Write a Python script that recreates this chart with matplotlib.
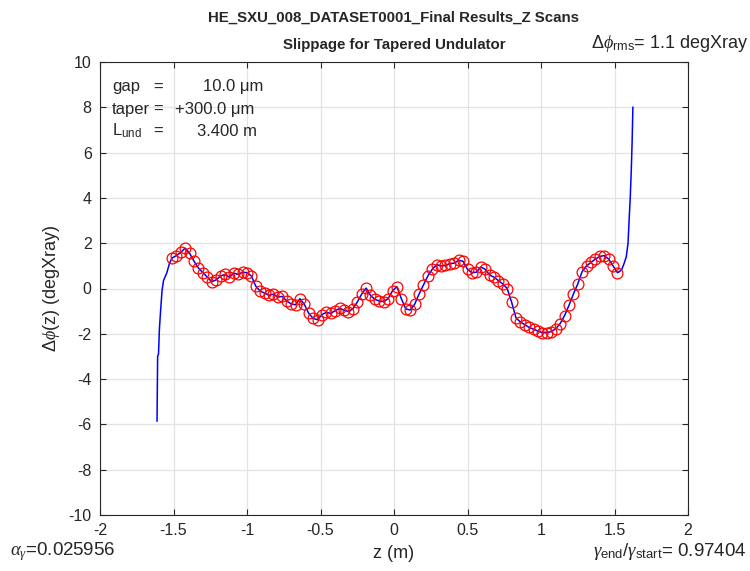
import numpy as np
import matplotlib
matplotlib.use("Agg")
import matplotlib.pyplot as plt

plt.rcParams["font.family"] = ["Liberation Sans", "DejaVu Sans"]
plt.rcParams["mathtext.fontset"] = "custom"
plt.rcParams["mathtext.rm"] = "Liberation Sans"
plt.rcParams["mathtext.it"] = "Liberation Serif:italic"
plt.rcParams["axes.unicode_minus"] = False

# rising edge before the first pole
z_head = [-1.612, -1.608, -1.602, -1.596, -1.588, -1.578, -1.568, -1.558, -1.545, -1.528]
phi_head = [-5.85, -3.0, -2.9, -1.8, -1.0, -0.1, 0.35, 0.5, 0.7, 1.1]

# slippage at each sampled pole
z_start, z_end = -1.51, 1.52
phi_per = [
    1.35, 1.45, 1.60, 1.78, 1.55, 1.20, 0.90, 0.70, 0.50, 0.30,
    0.38, 0.55, 0.62, 0.50, 0.68, 0.62, 0.72, 0.70, 0.55, 0.10,
    -0.12, -0.20, -0.30, -0.25, -0.38, -0.35, -0.55, -0.68, -0.72, -0.45,
    -0.70, -1.10, -1.32, -1.38, -1.15, -1.05, -1.10, -0.98, -0.88, -0.95,
    -1.02, -0.90, -0.60, -0.25, 0.02, -0.30, -0.48, -0.55, -0.58, -0.45,
    -0.10, 0.08, -0.45, -0.90, -0.95, -0.70, -0.25, 0.15, 0.55, 0.85,
    1.05, 1.00, 1.02, 1.10, 1.12, 1.25, 1.20, 0.85, 0.70, 0.72,
    0.95, 0.85, 0.60, 0.50, 0.35, 0.20, 0.00, -0.60, -1.30, -1.48,
    -1.60, -1.72, -1.80, -1.88, -1.95, -1.95, -1.90, -1.78, -1.55, -1.20,
    -0.75, -0.25, 0.20, 0.75, 1.00, 1.15, 1.30, 1.42, 1.45, 1.30,
    1.00, 0.70,
]
z_per = np.linspace(z_start, z_end, len(phi_per))

# steep exit after the last pole
z_tail = [1.535, 1.55, 1.565, 1.58, 1.592, 1.600, 1.607, 1.614, 1.620, 1.625]
phi_tail = [0.75, 0.85, 1.1, 1.4, 2.0, 3.1, 4.0, 5.2, 6.5, 8.0]

gap_um = 10.0
taper_um = 300.0
l_und = 3.400
phi_rms = 1.1
alpha_gamma = 0.025956
gamma_ratio = 0.97404

W, H = 750, 571
fig = plt.figure(figsize=(W / 100, H / 100), dpi=100)
ax = fig.add_axes([100 / W, 1 - 515 / H, 588 / W, 453 / H])

z_all = np.concatenate([z_head, z_per, z_tail])
phi_all = np.concatenate([phi_head, phi_per, phi_tail])
ax.plot(z_all, phi_all, color="#0000ff", lw=1.1, zorder=3)
ax.plot(z_per, phi_per, "o", mfc="none", mec="#ff0000", ms=7.8, mew=0.9, zorder=4)

ax.set_xlim(-2, 2)
ax.set_ylim(-10, 10)
ax.set_xticks(np.arange(-2, 2.01, 0.5))
ax.set_xticklabels(["-2", "-1.5", "-1", "-0.5", "0", "0.5", "1", "1.5", "2"])
ax.set_yticks(np.arange(-10, 11, 2))
ax.grid(True, color="#e3e3e3", lw=0.9)
ax.set_axisbelow(True)
ax.tick_params(direction="in", length=4, width=0.8, colors="#262626",
               labelsize=11.5, top=True, right=True, pad=6)
for s in ax.spines.values():
    s.set_color("#262626")
    s.set_linewidth(0.8)

ax.set_xlabel("z (m)", fontsize=13, color="#262626", labelpad=5)
ax.set_ylabel(r"$\Delta\phi$(z) (degXray)", fontsize=13, color="#262626", labelpad=5)

def ftext(x, y, s, **kw):
    fig.text(x / W, 1 - y / H, s, color="#262626", **kw)

ftext(394, 18, "HE_SXU_008_DATASET0001_Final Results_Z Scans",
      fontsize=10.8, fontweight="bold", ha="center", va="center")
ftext(394, 45, "Slippage for Tapered Undulator",
      fontsize=10.8, fontweight="bold", ha="center", va="center")
ftext(748, 44, r"$\Delta\phi_{\rm rms}$= " + f"{phi_rms:.1f} degXray",
      fontsize=13, ha="right", va="center")
ftext(10, 552, r"$\alpha_{\gamma}$=" + f"{alpha_gamma:.6f}",
      fontsize=13.5, ha="left", va="center")
ftext(747, 552, r"$\gamma_{\rm end}/\gamma_{\rm start}$= " + f"{gamma_ratio:.5f}",
      fontsize=13.5, ha="right", va="center")

# parameter block in the upper left corner
rows = [
    ("gap", f"{gap_um:.1f} \u03bcm", 203, 87),
    ("taper", f"+{taper_um:.1f} \u03bcm", 175, 109),
    (r"L$_{\rm und}$", f"{l_und:.3f} m", 197, 131),
]
for name, val, xval, y in rows:
    ftext(112, y, name, fontsize=12, ha="left", va="center")
    ftext(153, y, "=", fontsize=12, ha="left", va="center")
    ftext(xval, y, val, fontsize=12, ha="left", va="center")

fig.savefig("out.png", dpi=100)
